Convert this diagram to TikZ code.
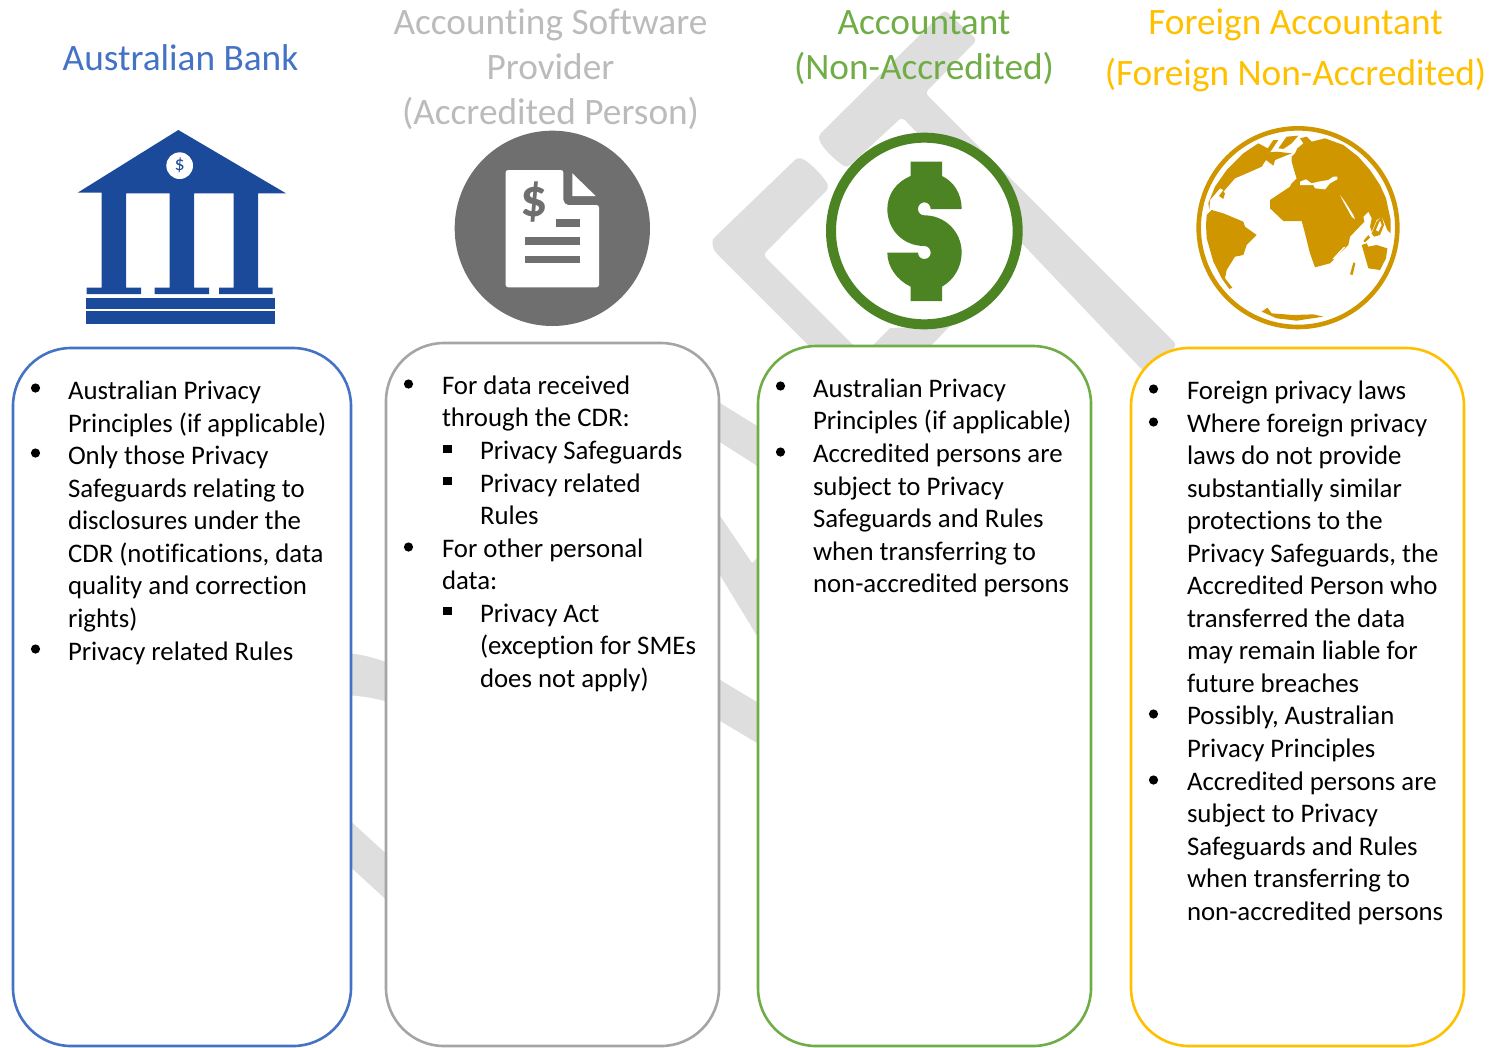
\documentclass[tikz,border=0pt]{standalone}
\usepackage{fontspec}
\setmainfont[Ligatures=NoCommon]{Carlito}
\definecolor{cblue}{HTML}{4472C4}
\definecolor{cgrey}{HTML}{A5A5A5}
\definecolor{ctitle}{HTML}{BBBBBB}
\definecolor{cgreen}{HTML}{70AD47}
\definecolor{cgold}{HTML}{FFC000}
\definecolor{bankblue}{HTML}{1C4A9A}
\definecolor{docgrey}{HTML}{6F6F6F}
\definecolor{dollargreen}{HTML}{4C8423}
\definecolor{globegold}{HTML}{D09600}
\definecolor{backgrey}{HTML}{DEDEDE}
\tikzset{
  panel/.style={rectangle,rounded corners=58pt,line width=2.6pt,fill=white,inner sep=0pt,outer sep=0pt},
  bodytext/.style={anchor=base west,inner sep=0pt,outer sep=0pt,font=\fontsize{26.8}{30}\selectfont,text=black},
  titletext/.style={anchor=base,inner sep=0pt,outer sep=0pt,font=\fontsize{37.3}{42}\selectfont},
  backshape/.style={fill=backgrey,rounded corners=4pt},
  dotmark/.style={fill=black},
}
\newcommand{\lineat}[4]{\node[bodytext] (#1) at (#2,#3+9) {#4};}
\newcommand{\bul}[2]{\fill[dotmark] (#1-.5,#2) circle[radius=4.6];}
\newcommand{\sqb}[2]{\fill[dotmark] (#1-4.7,#2-4.2) rectangle (#1+3.7,#2+4.2);}
\begin{document}
\begin{tikzpicture}[x=1pt,y=-1pt]
\useasboundingbox (0,0) rectangle (1490,1047);
% background shapes
\fill[backshape] (945,10) -- (977,40) -- (925,93) -- (1177,345) -- (1147,375) -- (902,117) -- (847,168) .. controls (835,160) and (822,148) .. (818,136) -- cycle;
\fill[backshape] (798,157) .. controls (810,162) and (825,178) .. (829,188) -- (763,255) -- (860,352) -- (815,352) -- (718,255) .. controls (712,248) and (712,240) .. (716,236) -- cycle;
\fill[backshape,rounded corners=0pt] (868,350) -- (890,328) -- (950,326) -- (925,352) -- cycle;
\fill[backshape,rounded corners=0pt] (345,653) .. controls (362,654) and (375,658) .. (392,664) -- (392,703) .. controls (375,698) and (362,696) .. (345,695) -- cycle;
\fill[backshape,rounded corners=0pt] (345,816) -- (392,859) -- (392,905) -- (345,862) -- cycle;
\fill[backshape,rounded corners=0pt] (712,398) -- (762,429) -- (762,469) -- (712,437) -- cycle;
\fill[backshape,rounded corners=0pt] (712,504) -- (752,563) -- (762,553) -- (762,644) -- (712,562) -- cycle;
\fill[backshape,rounded corners=0pt] (712,675) -- (762,705) -- (762,746) -- (712,716) -- cycle;
% panels
\node[panel,draw=cblue,minimum width=338pt,minimum height=698pt] (bankpanel) at (182,697) {};
\node[panel,draw=cgrey,minimum width=333pt,minimum height=703pt] (softpanel) at (552.5,694.5) {};
\node[panel,draw=cgreen,minimum width=333pt,minimum height=700pt] (accpanel) at (924.5,696) {};
\node[panel,draw=cgold,minimum width=333pt,minimum height=698pt] (forpanel) at (1297.5,697) {};
% titles
\node[titletext,text=cblue] (t1) at (180.5,70.5) {Australian Bank};
\node[titletext,text=ctitle] (t2a) at (550.5,34.5) {Accounting Software};
\node[titletext,text=ctitle] (t2b) at (550.5,79.5) {Provider};
\node[titletext,text=ctitle] (t2c) at (550.5,124.5) {(Accredited Person)};
\node[titletext,text=cgreen] (t3a) at (924,34.5) {Accountant};
\node[titletext,text=cgreen] (t3b) at (924,79.5) {(Non-Accredited)};
\node[titletext,text=cgold] (t4a) at (1295.5,34.5) {Foreign Accountant};
\node[titletext,text=cgold] (t4b) at (1295.5,85.5) {(Foreign Non-Accredited)};
% bank icon
\begin{scope}[shift={(60,120)},x=.33333pt,y=-.33333pt]
\fill[bankblue] (355,30) -- (678,220) -- (594,220) -- (594,503) -- (638,503) -- (638,522) -- (477,522) -- (477,503) -- (521,503) -- (521,220) -- (402,220) -- (402,503) -- (447,503) -- (447,522) -- (284,522) -- (284,503) -- (329,503) -- (329,220) -- (198,220) -- (198,503) -- (243,503) -- (243,522) -- (80,522) -- (80,503) -- (125,503) -- (125,218) -- (53,218) -- cycle;
\fill[bankblue] (77,535) rectangle (645,566);
\fill[bankblue] (77,573) rectangle (645,611);
\fill[white] (359,137) circle[radius=40];
\node[inner sep=0pt,text=bankblue,font=\fontsize{20}{21}\selectfont] (bankdollar) at (359,137) {\$};
\end{scope}
% document icon
\begin{scope}[shift={(440,120)},x=.33333pt,y=-.33333pt]
\fill[docgrey] (337,325) circle[radius=293];
\fill[white,rounded corners=2.5pt] (197,150) -- (370,150) -- (370,232) .. controls (370,248) and (378,255) .. (392,255) -- (477,255) -- (477,502) -- (197,502) -- cycle;
\fill[white] (397,160) -- (467,228) -- (397,228) -- cycle;
\fill[docgrey] (348,297) rectangle (420,320);
\fill[docgrey] (255,352) rectangle (420,375);
\fill[docgrey] (255,407) rectangle (420,430);
\node[inner sep=0pt,text=docgrey,font=\fontsize{54}{56}\bfseries\selectfont] (docdollar) at (282,245) {\$};
\end{scope}
% dollar icon
\begin{scope}[shift={(700,90)},x=.33333pt,y=-.33333pt]
\draw[dollargreen,line width=10pt,fill=white] (673,423) circle[radius=280];
\fill[dollargreen] (632,215) -- (726,215) -- (726,258) .. controls (762,275) and (785,312) .. (785,357) -- (692,357) .. controls (692,346) and (684,337) .. (673,337) .. controls (662,337) and (654,346) .. (654,357) .. controls (654,368) and (662,376) .. (673,376) .. controls (735,376) and (785,425) .. (785,488) .. controls (785,530) and (762,570) .. (726,590) -- (726,633) -- (632,633) -- (632,590) .. controls (590,570) and (562,530) .. (562,488) -- (654,488) .. controls (654,499) and (662,507) .. (673,507) .. controls (684,507) and (692,499) .. (692,488) .. controls (692,477) and (684,468) .. (673,468) .. controls (610,468) and (562,420) .. (562,357) .. controls (562,312) and (590,275) .. (632,258) -- cycle;
\end{scope}
% globe icon
\begin{scope}[shift={(1180,115)},x=.33333pt,y=-.33333pt]
\draw[globegold,line width=4.6pt] (354,338) circle[radius=298];
% Eurasia and Africa
\fill[globegold] (335,125) -- (345,115) -- (352,100) -- (370,85) -- (360,70) -- (380,65) -- (395,80) -- (435,70) -- (490,90) -- (535,125) -- (570,165) -- (600,210) -- (618,250) -- (632,315) -- (632,355) -- (622,345) -- (612,320) -- (605,305) -- (590,315) -- (575,350) -- (570,335) -- (575,310) -- (565,290) -- (550,305) -- (553,320) -- (510,365) -- (505,390) -- (470,425) -- (450,445) -- (405,457) -- (390,415) -- (375,355) -- (365,318) -- (310,318) -- (270,280) -- (270,255) -- (330,215) -- (335,205) -- (350,190) -- (345,175) -- (335,140) -- cycle;
\fill[white] (345,95) circle[radius=7];
\fill[white] (360,200) -- (378,193) -- (395,205) -- (415,200) -- (445,195) -- (460,185) -- (472,185) -- (472,193) -- (450,205) -- (435,223) -- (405,220) -- (400,210) -- (360,210) -- cycle;
\fill[white] (480,240) -- (495,260) -- (520,300) -- (525,313) -- (515,305) -- (490,260) -- cycle;
\fill[white] (457,432) -- (490,397) -- (497,395) -- (465,432) -- cycle;
% South America
\fill[globegold] (80,300) -- (95,285) -- (130,295) -- (190,320) -- (195,335) -- (230,360) -- (200,390) -- (190,420) -- (165,425) -- (140,465) -- (135,490) -- (157,518) -- (148,522) -- (125,490) -- (100,440) -- (80,370) -- (78,330) -- cycle;
% North America
\fill[globegold] (88,285) -- (90,255) -- (120,220) -- (130,225) -- (117,243) -- (130,252) -- (135,235) -- (130,230) -- (165,190) -- (200,175) -- (245,155) -- (258,135) -- (280,152) -- (285,135) -- (335,115) -- (290,110) -- (270,112) -- (295,75) -- (280,75) -- (263,100) -- (235,85) -- (190,115) -- (140,165) -- (105,215) -- (85,265) -- cycle;
% Greenland
\fill[globegold] (295,100) -- (320,65) -- (355,62) -- (335,85) -- (310,102) -- cycle;
% Australia and islands
\fill[globegold] (545,390) -- (560,385) -- (565,395) -- (590,390) -- (622,400) -- (618,430) -- (600,465) -- (565,460) -- (555,425) -- cycle;
\fill[globegold] (575,355) -- (590,320) -- (605,303) -- (612,330) -- (600,360) -- (582,365) -- cycle;
\fill[white] (588,345) -- (600,317) -- (605,330) -- (595,350) -- cycle;
\fill[globegold] (550,378) -- (565,360) -- (570,368) -- (555,382) -- cycle;
\fill[globegold] (510,478) -- (520,442) -- (526,445) -- (518,480) -- cycle;
% Antarctica
\fill[globegold] (245,590) -- (262,578) -- (275,595) -- (340,600) -- (400,598) -- (430,605) -- (350,617) -- (290,610) -- cycle;
\end{scope}
% bank text
\lineat{a1}{68}{390}{Australian Privacy}
\lineat{a2}{68}{423}{Principles (if applicable)}
\lineat{a3}{68}{455}{Only those Privacy}
\lineat{a4}{68}{488}{Safeguards relating to}
\lineat{a5}{68}{520}{disclosures under the}
\lineat{a6}{68}{553}{CDR (notifications, data}
\lineat{a7}{68}{585}{quality and correction}
\lineat{a8}{68}{618}{rights)}
\lineat{a9}{68}{651}{Privacy related Rules}
\bul{36}{388}\bul{36}{453}\bul{36}{649}
% software text
\lineat{b1}{442}{385}{For data received}
\lineat{b2}{442}{417}{through the CDR:}
\lineat{b3}{480}{450}{Privacy Safeguards}
\lineat{b4}{480}{483}{Privacy related}
\lineat{b5}{480}{515}{Rules}
\lineat{b6}{442}{548}{For other personal}
\lineat{b7}{442}{580}{data:}
\lineat{b8}{480}{613}{Privacy Act}
\lineat{b9}{480}{645}{(exception for SMEs}
\lineat{b10}{480}{678}{does not apply)}
\bul{409}{384}\bul{409}{547}
\sqb{448}{449}\sqb{448}{481}\sqb{448}{611}
% accountant text
\lineat{c1}{813}{388}{Australian Privacy}
\lineat{c2}{813}{420}{Principles (if applicable)}
\lineat{c3}{813}{453}{Accredited persons are}
\lineat{c4}{813}{486}{subject to Privacy}
\lineat{c5}{813}{518}{Safeguards and Rules}
\lineat{c6}{813}{551}{when transferring to}
\lineat{c7}{813}{583}{non-accredited persons}
\bul{781}{386}\bul{781}{452}
% foreign text
\lineat{d1}{1187}{390}{Foreign privacy laws}
\lineat{d2}{1187}{423}{Where foreign privacy}
\lineat{d3}{1187}{455}{laws do not provide}
\lineat{d4}{1187}{488}{substantially similar}
\lineat{d5}{1187}{520}{protections to the}
\lineat{d6}{1187}{553}{Privacy Safeguards, the}
\lineat{d7}{1187}{585}{Accredited Person who}
\lineat{d8}{1187}{618}{transferred the data}
\lineat{d9}{1187}{650}{may remain liable for}
\lineat{d10}{1187}{683}{future breaches}
\lineat{d11}{1187}{715}{Possibly, Australian}
\lineat{d12}{1187}{748}{Privacy Principles}
\lineat{d13}{1187}{781}{Accredited persons are}
\lineat{d14}{1187}{813}{subject to Privacy}
\lineat{d15}{1187}{846}{Safeguards and Rules}
\lineat{d16}{1187}{878}{when transferring to}
\lineat{d17}{1187}{911}{non-accredited persons}
\bul{1154}{389}\bul{1154}{422}\bul{1154}{714}\bul{1154}{780}
\end{tikzpicture}
\end{document}
